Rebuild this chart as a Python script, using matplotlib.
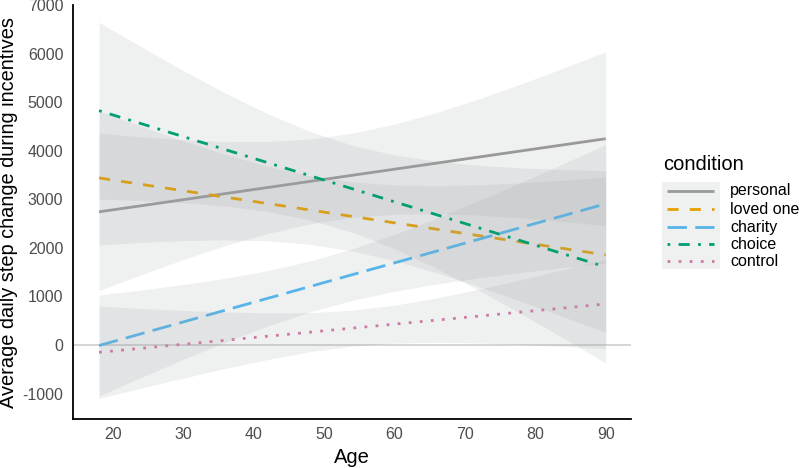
import matplotlib
matplotlib.use("Agg")
import matplotlib.pyplot as plt
from matplotlib.lines import Line2D
from matplotlib.patches import Rectangle

plt.rcParams['font.family'] = ['Liberation Sans', 'DejaVu Sans']
plt.rcParams['axes.unicode_minus'] = False

# fitted lines (end points)
conditions = ["personal", "loved one", "charity", "choice", "control"]
line_ages = [18, 90]
personal_fit = [2742, 4247]
loved_fit = [3440, 1855]
charity_fit = [-10, 2907]
choice_fit = [4825, 1608]
control_fit = [-150, 845]

# confidence ribbons, every 6 years
band_ages = [18, 24, 30, 36, 42, 48, 54, 60, 66, 72, 78, 84, 90]
personal_lo = [1122, 1449, 1761, 2048, 2299, 2496, 2629, 2694, 2703, 2674, 2617, 2543, 2458]
personal_hi = [4362, 4285, 4225, 4188, 4189, 4242, 4361, 4546, 4787, 5068, 5375, 5701, 6036]
loved_lo = [2060, 2112, 2149, 2165, 2145, 2074, 1937, 1735, 1485, 1202, 898, 581, 255]
loved_hi = [4820, 4504, 4203, 3923, 3679, 3486, 3359, 3295, 3281, 3300, 3340, 3393, 3455]
charity_lo = [-1050, -666, -293, 63, 392, 682, 919, 1107, 1257, 1382, 1493, 1593, 1687]
charity_hi = [1030, 1132, 1245, 1375, 1532, 1730, 1979, 2277, 2613, 2974, 3349, 3735, 4127]
choice_lo = [3005, 2975, 2929, 2858, 2747, 2575, 2323, 1984, 1577, 1125, 642, 141, -372]
choice_hi = [6645, 6139, 5649, 5184, 4759, 4395, 4111, 3912, 3783, 3699, 3646, 3611, 3588]
control_lo = [-1100, -887, -680, -481, -297, -137, -22, 39, 55, 42, 11, -29, -75]
control_hi = [800, 753, 712, 679, 661, 667, 718, 821, 971, 1150, 1347, 1553, 1765]

fits = [personal_fit, loved_fit, charity_fit, choice_fit, control_fit]
lows = [personal_lo, loved_lo, charity_lo, choice_lo, control_lo]
highs = [personal_hi, loved_hi, charity_hi, choice_hi, control_hi]

colors = ["#999999", "#E69F00", "#56B4E9", "#009E73", "#CC79A7"]
dashes = [None, (4, 4), (7, 3), (1, 3, 4, 3), (1, 3)]

fig = plt.figure(figsize=(8, 4.68), dpi=100)
ax = fig.add_axes([0.09125, 0.1047, 0.6975, 0.8846])

ax.axhline(0, color="#d2d2d2", lw=1.3, zorder=1)

# ribbon then line for each group, like geom_smooth
z = 2
for fit, lo, hi, col, ds in zip(fits, lows, highs, colors, dashes):
    ax.fill_between(band_ages, lo, hi, color="#9ea3a6", alpha=0.16, lw=0, zorder=z)
    ln, = ax.plot(line_ages, fit, color=col, lw=2, zorder=z + 1,
                  solid_capstyle="butt", dash_capstyle="butt")
    if ds is not None:
        ln.set_dashes(ds)
    z += 2

ax.set_xlim(14.3, 93.6)
ax.set_ylim(-1523, 7000)
ax.set_xticks(range(20, 91, 10))
ax.set_yticks(range(-1000, 7001, 1000))
ax.tick_params(length=0, labelsize=11.5, labelcolor="#4d4d4d")
ax.tick_params(axis="x", pad=6)
ax.tick_params(axis="y", pad=7)
for s in ["top", "right"]:
    ax.spines[s].set_visible(False)
for s in ["left", "bottom"]:
    ax.spines[s].set_linewidth(1.3)
ax.set_xlabel("Age", fontsize=14.5, labelpad=4)
ax.set_ylabel("Average daily step change during incentives", fontsize=14.4, labelpad=3)

# legend
W, H = 800, 468
def fx(px):
    return px / W
def fy(py):
    return 1 - py / H

fig.text(fx(663), fy(164), "condition", fontsize=14.5, va="center", ha="left")
fig.add_artist(Rectangle((fx(662), fy(269)), fx(58), 87 / H, transform=fig.transFigure,
                         facecolor="#eff0f0", edgecolor="none"))
key_y = [191, 209, 227, 244, 261]
for name, col, ds, ky in zip(conditions, colors, dashes, key_y):
    l = Line2D([fx(667), fx(714)], [fy(ky), fy(ky)], transform=fig.transFigure,
               color=col, lw=2, solid_capstyle="butt", dash_capstyle="butt")
    if ds is not None:
        l.set_dashes(ds)
    fig.add_artist(l)
    fig.text(fx(730), fy(ky), name, fontsize=11.5, va="center", ha="left")

fig.savefig("out.png", dpi=100)
